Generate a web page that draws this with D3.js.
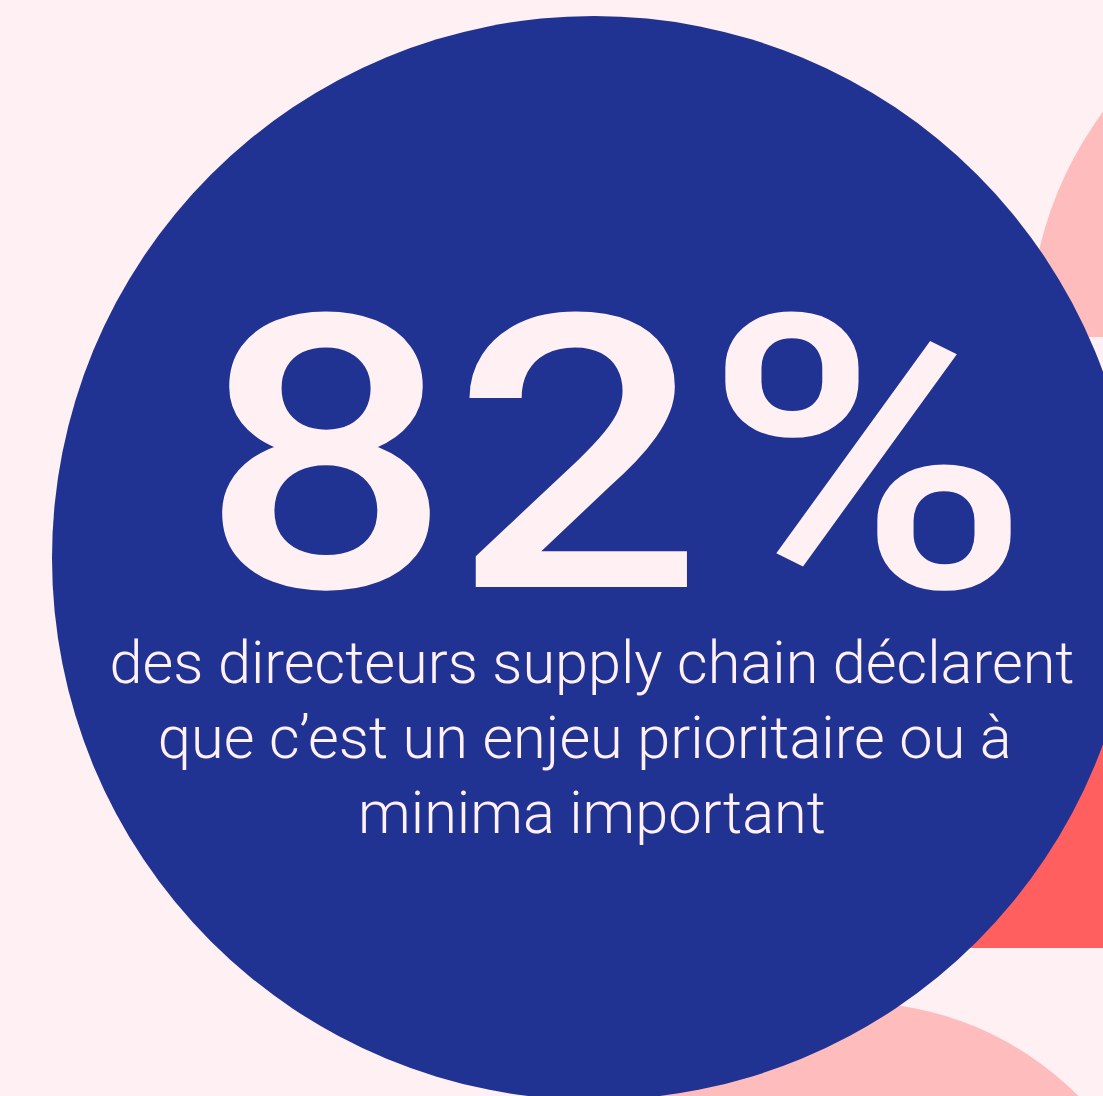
<!DOCTYPE html>
<html>
<head>
<meta charset="utf-8">
<script src="https://cdn.jsdelivr.net/npm/d3@7"></script>
<style>
  html, body { margin: 0; padding: 0; background: #fff0f3; }
  svg { display: block; }
</style>
</head>
<body>
<svg id="chart" width="1103" height="1096"></svg>
<script>
var width = 1103;
var height = 1096;

// the key figure
var shareValue = [82];
var shareUnit = ["%"];
var captionLines = [
  "des directeurs supply chain déclarent",
  "que c\u2019est un enjeu prioritaire ou à\u00a0",
  "minima important"
];

// decorative shapes behind the disc
var blobNames = ["top", "bottom"];
var blobColors = ["#ffbcbc", "#ffbcbc"];

var svg = d3.select("#chart");

svg.append("rect")
  .attr("width", width)
  .attr("height", height)
  .attr("fill", "#fff0f3");

// red block on the right, half hidden by the disc
svg.append("rect")
  .attr("x", 700)
  .attr("y", 500)
  .attr("width", 420)
  .attr("height", 448)
  .attr("fill", "#ff5f5f");

// top right pink half disc (cut flat at its base)
svg.append("defs").append("clipPath")
  .attr("id", "topclip")
  .append("rect")
  .attr("x", 0).attr("y", 0)
  .attr("width", width).attr("height", 337);

var blobs = [
  {name: blobNames[0], cx: 1409, cy: 337, r: 380, clip: "url(#topclip)"},
  {name: blobNames[1], cx: 852, cy: 1322, r: 320, clip: null}
];

svg.selectAll("circle.blob")
  .data(blobs)
  .enter()
  .append("circle")
  .attr("class", "blob")
  .attr("cx", function(d) { return d.cx; })
  .attr("cy", function(d) { return d.cy; })
  .attr("r", function(d) { return d.r; })
  .attr("clip-path", function(d) { return d.clip; })
  .attr("fill", function(d, i) { return blobColors[i]; });

// main disc
svg.append("circle")
  .attr("cx", 594)
  .attr("cy", 558)
  .attr("r", 542)
  .attr("fill", "#213392");

var big = svg.append("text")
  .attr("x", 615)
  .attr("y", 587)
  .attr("text-anchor", "middle")
  .attr("fill", "#fff0f3")
  .attr("font-family", "Roboto, sans-serif")
  .attr("font-weight", 500)
  .attr("font-size", 382)
  .text(shareValue[0] + shareUnit[0]);

// stretch the figure to the width seen in the picture
big.attr("textLength", 830).attr("lengthAdjust", "spacingAndGlyphs");

var lines = svg.selectAll("text.caption")
  .data(captionLines)
  .enter()
  .append("text")
  .attr("class", "caption")
  .attr("x", 592)
  .attr("y", function(d, i) { return 683 + i * 75; })
  .attr("text-anchor", "middle")
  .attr("fill", "#fff0f3")
  .attr("font-family", "Roboto, sans-serif")
  .attr("font-weight", 300)
  .attr("font-size", 62)
  .text(function(d) { return d; });

// fit the first line to its measured width
var firstLen = lines.node().getComputedTextLength();
var fs = 62 * 965 / firstLen;
lines.attr("font-size", fs);
</script>
</body>
</html>
